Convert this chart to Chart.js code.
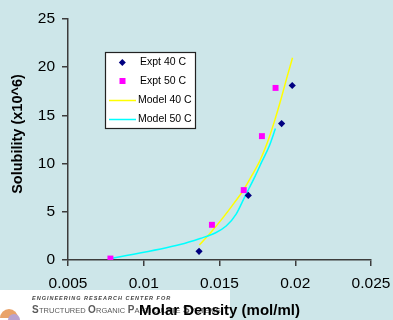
<!DOCTYPE html>
<html>
<head>
<meta charset="utf-8">
<script src="https://cdn.jsdelivr.net/npm/chart.js@4/dist/chart.umd.min.js"></script>
<style>
html,body{margin:0;padding:0;background:#cde6e9;}
#wrap{width:393px;height:320px;position:relative;}
canvas{display:block;}
</style>
</head>
<body>
<div id="wrap"><canvas id="c" width="393" height="320"></canvas></div>
<script>
// ---- data ----
const expt40X = [0.01365, 0.0169, 0.0191, 0.0198];
const expt40Y = [0.9, 6.7, 14.15, 18.1];
const expt50X = [0.0078, 0.0145, 0.0166, 0.0178, 0.0187];
const expt50Y = [0.15, 3.65, 7.25, 12.85, 17.85];
const model40X = [0.01367, 0.01445, 0.01526, 0.01596, 0.01658, 0.01715, 0.01768, 0.01814, 0.01861, 0.01907, 0.01947, 0.01982];
const model40Y = [1.55, 2.9, 4.45, 5.9, 7.25, 8.8, 10.35, 12.1, 14.3, 16.75, 19.05, 20.98];
const model50X = [0.0078, 0.0124, 0.01372, 0.01471, 0.01544, 0.0161, 0.01669, 0.01729, 0.01781, 0.01828, 0.01869];
const model50Y = [0.13, 1.6, 2.23, 2.8, 3.52, 4.76, 6.63, 8.49, 10.25, 11.8, 13.63];
const xTickLabels = ['0.005', '0.01', '0.015', '0.02', '0.025'];
const yTickLabels = ['0', '5', '10', '15', '20', '25'];
const seriesNames = ['Expt 40 C', 'Expt 50 C', 'Model 40 C', 'Model 50 C'];
const xTitle = 'Molar Density (mol/ml)';
const yTitle = 'Solubility (x10^6)';

const pts = (xs, ys) => xs.map((x, i) => ({x: x, y: ys[i]}));
const FONT = "'Liberation Sans', Arial, sans-serif";
const BG = '#cde6e9';
const AXIS = '#3c3c3c';

const decor = {
  id: 'decor',
  beforeDraw(chart) {
    const ctx = chart.ctx;
    ctx.save();
    ctx.fillStyle = BG;
    ctx.fillRect(0, 0, chart.width, chart.height);
    // footer logo strip
    ctx.fillStyle = '#ffffff';
    ctx.fillRect(0, 290, 230, 30);
    // logo blob
    ctx.beginPath();
    ctx.fillStyle = '#e9a36a';
    ctx.arc(9, 318, 9, Math.PI, 2 * Math.PI);
    ctx.fill();
    ctx.beginPath();
    ctx.fillStyle = '#b9a2cf';
    ctx.arc(14, 320, 6, Math.PI, 2 * Math.PI);
    ctx.fill();
    ctx.fillStyle = '#444';
    ctx.textBaseline = 'alphabetic';
    ctx.textAlign = 'left';
    ctx.font = "italic bold 5.5px " + FONT;
    try { ctx.letterSpacing = '1px'; } catch (e) {}
    ctx.fillText('ENGINEERING RESEARCH CENTER FOR', 32, 300);
    try { ctx.letterSpacing = '0px'; } catch (e) {}
    ctx.fillStyle = '#5a5a5a';
    const parts = [['S', true], ['TRUCTURED', false], [' ', false], ['O', true], ['RGANIC', false], [' ', false],
                   ['P', true], ['ARTICULATE', false], [' ', false], ['S', true], ['YSTEMS', false]];
    let x = 32;
    for (const [t, big] of parts) {
      ctx.font = big ? "bold 10px " + FONT : "7.5px " + FONT;
      ctx.fillText(t, x, 313);
      x += ctx.measureText(t).width + (t === ' ' ? 0 : 0.3);
    }
    ctx.restore();
  },
  afterDraw(chart) {
    const ctx = chart.ctx;
    ctx.save();
    // y axis title
    ctx.translate(18, 134);
    ctx.rotate(-Math.PI / 2);
    ctx.fillStyle = '#000';
    ctx.font = "bold 14.5px " + FONT;
    ctx.textAlign = 'center';
    ctx.textBaseline = 'middle';
    ctx.fillText(yTitle, 0, 0);
    ctx.restore();

    // legend box
    ctx.save();
    const lx = 105, ly = 52, lw = 90, lh = 76;
    ctx.fillStyle = '#ffffff';
    ctx.fillRect(lx, ly, lw, lh);
    ctx.strokeStyle = '#222';
    ctx.lineWidth = 1.2;
    ctx.strokeRect(lx + 0.5, ly + 0.5, lw, lh);
    const rowsY = [62.5, 81, 100.5, 119.5];
    const ds = chart.data.datasets;
    ctx.font = "10.5px " + FONT;
    ctx.textBaseline = 'middle';
    ctx.textAlign = 'left';
    // diamond
    ctx.fillStyle = ds[0].backgroundColor;
    ctx.beginPath();
    ctx.moveTo(122.3 - 3.5, rowsY[0]);
    ctx.lineTo(122.3, rowsY[0] - 3.5);
    ctx.lineTo(122.3 + 3.5, rowsY[0]);
    ctx.lineTo(122.3, rowsY[0] + 3.5);
    ctx.closePath();
    ctx.fill();
    // square
    ctx.fillStyle = ds[1].backgroundColor;
    ctx.fillRect(119.5, rowsY[1] - 3, 6, 6);
    // lines
    ctx.lineWidth = 1.5;
    ctx.strokeStyle = ds[2].borderColor;
    ctx.beginPath(); ctx.moveTo(109, rowsY[2]); ctx.lineTo(136, rowsY[2]); ctx.stroke();
    ctx.strokeStyle = ds[3].borderColor;
    ctx.beginPath(); ctx.moveTo(109, rowsY[3]); ctx.lineTo(136, rowsY[3]); ctx.stroke();
    ctx.fillStyle = '#000';
    ctx.fillText(seriesNames[0], 140, rowsY[0]);
    ctx.fillText(seriesNames[1], 140, rowsY[1]);
    ctx.fillText(seriesNames[2], 138, rowsY[2]);
    ctx.fillText(seriesNames[3], 138, rowsY[3]);
    ctx.restore();
  }
};

const tickFont = {family: FONT, size: 15.5};

new Chart(document.getElementById('c'), {
  type: 'scatter',
  data: {
    datasets: [
      {label: seriesNames[0], data: pts(expt40X, expt40Y), pointStyle: 'rectRot', pointRadius: 3.6,
       backgroundColor: '#000080', borderColor: '#000080', borderWidth: 0, order: 0},
      {label: seriesNames[1], data: pts(expt50X, expt50Y), pointStyle: 'rect', pointRadius: 4.2,
       backgroundColor: '#ff00ff', borderColor: '#ff00ff', borderWidth: 0, order: 1},
      {label: seriesNames[2], data: pts(model40X, model40Y), showLine: true, pointRadius: 0,
       borderColor: '#ffff00', backgroundColor: '#ffff00', borderWidth: 1.5,
       cubicInterpolationMode: 'monotone', order: 3},
      {label: seriesNames[3], data: pts(model50X, model50Y), showLine: true, pointRadius: 0,
       borderColor: '#00ffff', backgroundColor: '#00ffff', borderWidth: 1.5,
       cubicInterpolationMode: 'monotone', order: 2}
    ]
  },
  options: {
    responsive: false,
    animation: false,
    devicePixelRatio: 1,
    events: [],
    layout: {padding: {left: 0, top: 19, right: 22, bottom: 0}},
    plugins: {legend: {display: false}, tooltip: {enabled: false}},
    scales: {
      x: {
        type: 'linear', min: 0.005, max: 0.025,
        afterFit: s => { s.height = 60; s.paddingLeft = 0; s.paddingRight = 0; },
        afterBuildTicks: s => { s.ticks = xTickLabels.map(v => ({value: parseFloat(v)})); },
        ticks: {font: tickFont, color: '#000', padding: 8, maxRotation: 0, autoSkip: false,
                callback: (v, i) => xTickLabels[i]},
        grid: {drawOnChartArea: false, drawTicks: true, tickLength: 6, color: AXIS, lineWidth: 1.5},
        border: {display: true, color: AXIS, width: 1.5},
        title: {display: true, text: xTitle, color: '#000',
                font: {family: FONT, size: 15, weight: 'bold'}, padding: {top: 0, bottom: 0}}
      },
      y: {
        type: 'linear', min: 0, max: 25,
        afterFit: s => { s.width = 68; s.paddingTop = 0; s.paddingBottom = 0; },
        afterBuildTicks: s => { s.ticks = yTickLabels.map(v => ({value: parseFloat(v)})); },
        ticks: {font: tickFont, color: '#000', padding: 7, autoSkip: false,
                callback: (v, i) => yTickLabels[i]},
        grid: {drawOnChartArea: false, drawTicks: true, tickLength: 6, color: AXIS, lineWidth: 1.5},
        border: {display: true, color: AXIS, width: 1.5}
      }
    }
  },
  plugins: [decor]
});
</script>
</body>
</html>
